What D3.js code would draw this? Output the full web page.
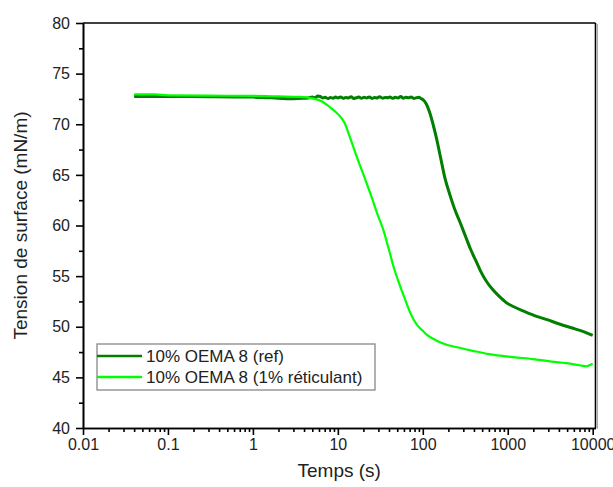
<!DOCTYPE html>
<html lang="fr">
<head>
<meta charset="utf-8">
<title>Tension de surface</title>
<script src="https://d3js.org/d3.v7.min.js"></script>
<style>
  body { margin: 0; background: #fff; }
  svg { font-family: "Liberation Sans", Arial, sans-serif; }
  .axis path, .axis line { stroke: #000; stroke-width: 1.6px; }
  .axis text { font-size: 16px; fill: #222; font-family: "Liberation Sans", Arial, sans-serif; }
  .line { fill: none; stroke-linejoin: round; }
</style>
</head>
<body>
<script>
// data
const refTime = [0.04, 0.1, 0.3, 0.6, 1, 1.5, 2, 2.7, 3.5, 4.5,
  5, 5.4, 5.8, 6.2, 6.6, 7.1, 7.6, 8.2, 8.8, 9.4, 10, 10.8, 11.6, 12.4, 13.3, 14.3, 15.4, 16.5, 17.7, 19,
  20.4, 21.9, 23.5, 25.2, 27, 29, 31, 33.5, 36, 38.5, 41, 44, 47.5, 51, 55, 59, 63, 68, 73, 78, 84, 90, 96, 100,
  110, 120, 132, 145, 162, 182, 209, 240, 275, 316, 363, 417, 479, 550, 661, 794, 955, 1160, 1585, 2240, 2900, 3980, 5620, 7940, 10000];
const refTension = [72.75, 72.75, 72.72, 72.7, 72.68, 72.62, 72.58, 72.52, 72.55, 72.6,
  72.7, 72.62, 72.78, 72.74, 72.6, 72.66, 72.55, 72.63, 72.58, 72.68, 72.6, 72.7, 72.56, 72.64, 72.6, 72.72, 72.55, 72.62, 72.68, 72.57,
  72.66, 72.6, 72.7, 72.55, 72.64, 72.6, 72.72, 72.58, 72.65, 72.62, 72.7, 72.56, 72.66, 72.6, 72.74, 72.58, 72.66, 72.62, 72.7, 72.55, 72.62, 72.66, 72.52, 72.45,
  72.0, 71.2, 70.0, 68.6, 66.7, 64.7, 63.0, 61.5, 60.3, 59.0, 57.7, 56.6, 55.5, 54.6, 53.7, 53.0, 52.4, 52.0, 51.5, 51.0, 50.7, 50.3, 49.9, 49.5, 49.15];

const retTime = [0.04, 0.07, 0.1, 0.3, 1, 2, 3.6, 5, 6.5, 8.3, 10, 11.9, 14.3, 17, 20.9, 25, 29, 34.2, 40, 45, 51, 60, 71, 85, 100, 112, 140, 180, 277, 400, 600, 1160, 2000, 3000, 4977, 7000, 8500, 9500, 10000];
const retTension = [72.95, 72.95, 72.85, 72.82, 72.8, 72.75, 72.7, 72.55, 72.25, 71.6, 71.0, 70.2, 68.4, 66.6, 64.6, 62.8, 61.2, 59.6, 57.6, 56.0, 54.6, 53.0, 51.4, 50.2, 49.6, 49.2, 48.7, 48.3, 47.9, 47.6, 47.3, 47.0, 46.8, 46.6, 46.4, 46.2, 46.1, 46.25, 46.35];

const xMajor = [0.01, 0.1, 1, 10, 100, 1000, 10000];
const xLabels = ["0.01", "0.1", "1", "10", "100", "1000", "10000"];
const yMajor = [40, 45, 50, 55, 60, 65, 70, 75, 80];
const yMinor = [42.5, 47.5, 52.5, 57.5, 62.5, 67.5, 72.5, 77.5];

const seriesNames = ["10% OEMA 8 (ref)", "10% OEMA 8 (1% réticulant)"];
const seriesColors = ["#007f00", "#00ff00"];

const w = 613, h = 487;
const pLeft = 83, pRight = 595.5, pTop = 23, pBottom = 428;

const svg = d3.select("body").append("svg").attr("width", w).attr("height", h);

const xScale = d3.scaleLog().domain([0.01, 10790]).range([pLeft, pRight]);
const yScale = d3.scaleLinear().domain([40, 80]).range([pBottom, pTop]);

// minor x ticks 2..9 of each decade
const xMinor = [];
for (let d = 0.01; d < 10000; d *= 10) {
  for (let k = 2; k <= 9; k++) xMinor.push(+(d * k).toPrecision(3));
}

// frame (top + right) with the grey shadow
svg.append("line").attr("x1", pLeft).attr("x2", pRight).attr("y1", pTop).attr("y2", pTop)
  .attr("stroke", "#000").attr("stroke-width", 1.6);
svg.append("line").attr("x1", pRight).attr("x2", pRight).attr("y1", pTop).attr("y2", pBottom)
  .attr("stroke", "#000").attr("stroke-width", 1.6);
svg.append("line").attr("x1", pRight + 2).attr("x2", pRight + 2).attr("y1", pTop + 1).attr("y2", pBottom + 1)
  .attr("stroke", "#aaa").attr("stroke-width", 1);

// axes
svg.append("g").attr("class", "axis")
  .attr("transform", "translate(0," + pBottom + ")")
  .call(d3.axisBottom(xScale).tickValues(xMinor).tickSize(4).tickFormat("").tickSizeOuter(0));
svg.append("g").attr("class", "axis")
  .attr("transform", "translate(0," + pBottom + ")")
  .call(d3.axisBottom(xScale).tickValues(xMajor).tickSize(7).tickPadding(4).tickSizeOuter(0)
    .tickFormat((d, i) => xLabels[i]));

svg.append("g").attr("class", "axis")
  .attr("transform", "translate(" + pLeft + ",0)")
  .call(d3.axisLeft(yScale).tickValues(yMinor).tickSize(4).tickFormat("").tickSizeOuter(0));
svg.append("g").attr("class", "axis")
  .attr("transform", "translate(" + pLeft + ",0)")
  .call(d3.axisLeft(yScale).tickValues(yMajor).tickSize(7).tickPadding(6).tickSizeOuter(0));

// curves
const line = d3.line().curve(d3.curveMonotoneX).x(d => xScale(d[0])).y(d => yScale(d[1]));
const series = [
  d3.zip(refTime, refTension),
  d3.zip(retTime, retTension)
];
svg.selectAll(".line").data(series).enter().append("path")
  .attr("class", "line")
  .attr("d", d => line(d))
  .attr("stroke", (d, i) => seriesColors[i])
  .attr("stroke-width", (d, i) => i === 0 ? 3 : 2.2);

// axis titles
svg.append("text")
  .attr("x", (pLeft + pRight) / 2).attr("y", 477)
  .attr("text-anchor", "middle")
  .style("font-size", "19px").attr("fill", "#222")
  .text("Temps (s)");
svg.append("text")
  .attr("transform", "translate(27," + ((pTop + pBottom) / 2) + ") rotate(-90)")
  .attr("text-anchor", "middle")
  .style("font-size", "19px").attr("fill", "#222")
  .text("Tension de surface (mN/m)");

// legend
const legend = svg.append("g").attr("transform", "translate(97,344)");
legend.append("rect").attr("width", 278).attr("height", 46)
  .attr("fill", "#fff").attr("stroke", "#888").attr("stroke-width", 1.3);
const rows = legend.selectAll(".legend").data(seriesNames).enter().append("g")
  .attr("class", "legend")
  .attr("transform", (d, i) => "translate(0," + (12 + i * 21) + ")");
rows.append("line").attr("x1", 0).attr("x2", 45).attr("y1", 0).attr("y2", 0)
  .attr("stroke", (d, i) => seriesColors[i]).attr("stroke-width", 2.5);
rows.append("text").attr("x", 49).attr("dy", "0.35em")
  .style("font-size", "17px").attr("fill", "#222")
  .text(d => d);
</script>
</body>
</html>
